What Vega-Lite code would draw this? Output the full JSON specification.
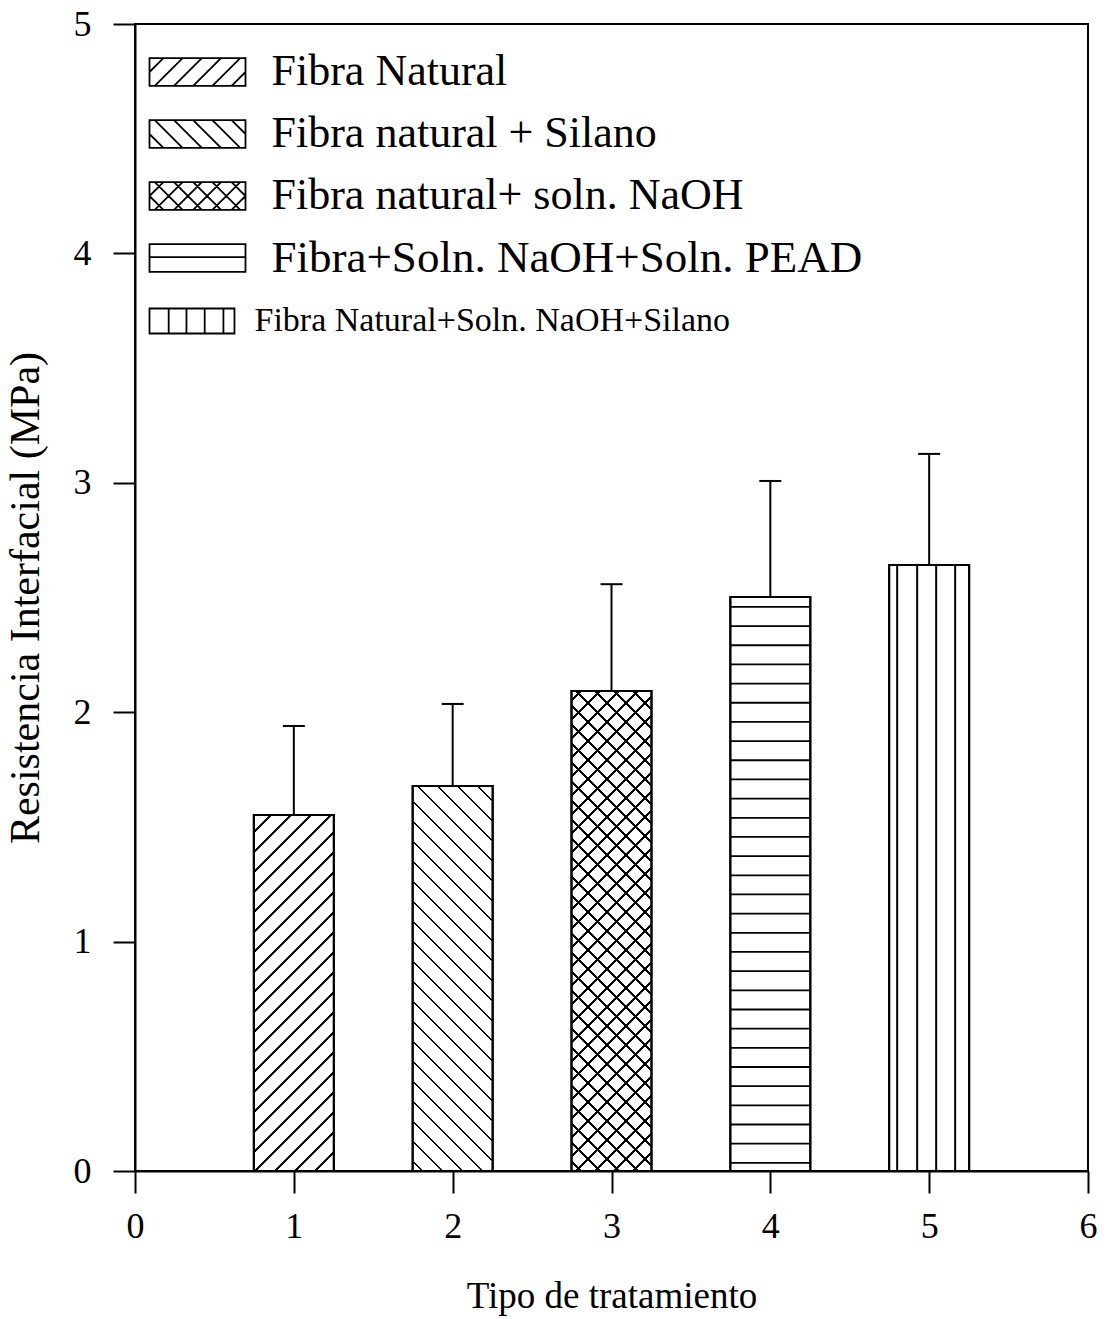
{
 "$schema": "https://vega.github.io/schema/vega-lite/v6.json",
 "width": 953,
 "height": 1147,
 "autosize": "none",
 "padding": {"left": 135, "top": 24, "right": 18, "bottom": 148},
 "background": "white",
 "data": {"values": [
  {"tipo": 1, "valor": 1.552, "superior": 1.940, "trat": "Fibra Natural"},
  {"tipo": 2, "valor": 1.678, "superior": 2.036, "trat": "Fibra natural + Silano"},
  {"tipo": 3, "valor": 2.092, "superior": 2.558, "trat": "Fibra natural+ soln. NaOH"},
  {"tipo": 4, "valor": 2.502, "superior": 3.008, "trat": "Fibra+Soln. NaOH+Soln. PEAD"},
  {"tipo": 5, "valor": 2.642, "superior": 3.126, "trat": "Fibra Natural+Soln. NaOH+Silano"}
 ]},
 "encoding": {
  "x": {"field": "tipo", "type": "quantitative", "scale": {"domain": [0, 6], "nice": false, "padding": 0},
        "axis": {"values": [0, 1, 2, 3, 4, 5, 6], "format": "d", "title": "Tipo de tratamiento", "labelFlush": false, "labelOverlap": false, "labelPadding": 16, "titleFontSize": 37, "titlePadding": 34}}
 },
 "layer": [
  {
   "mark": {"type": "bar", "size": 80, "stroke": "black", "strokeWidth": 2},
   "encoding": {
    "y": {"field": "valor", "type": "quantitative", "scale": {"domain": [0, 5], "nice": false, "padding": 0},
          "axis": {"values": [0, 1, 2, 3, 4, 5], "format": "d", "title": "Resistencia Interfacial (MPa)", "labelPadding": 22, "titleFontSize": 42, "titlePadding": 26}},
    "fill": {"condition": [
     {"test": "datum.tipo === 1", "value": {"gradient": "linear", "x1": 0, "y1": 0, "x2": 0.262, "y2": 1.1659, "stops": [
      {"offset":0,"color":"#fff"},
      {"offset":0.0360,"color":"#fff"},{"offset":0.0360,"color":"#000"},{"offset":0.0420,"color":"#000"},{"offset":0.0420,"color":"#fff"},
      {"offset":0.0819,"color":"#fff"},{"offset":0.0819,"color":"#000"},{"offset":0.0878,"color":"#000"},{"offset":0.0878,"color":"#fff"},
      {"offset":0.1278,"color":"#fff"},{"offset":0.1278,"color":"#000"},{"offset":0.1337,"color":"#000"},{"offset":0.1337,"color":"#fff"},
      {"offset":0.1736,"color":"#fff"},{"offset":0.1736,"color":"#000"},{"offset":0.1796,"color":"#000"},{"offset":0.1796,"color":"#fff"},
      {"offset":0.2195,"color":"#fff"},{"offset":0.2195,"color":"#000"},{"offset":0.2255,"color":"#000"},{"offset":0.2255,"color":"#fff"},
      {"offset":0.2654,"color":"#fff"},{"offset":0.2654,"color":"#000"},{"offset":0.2713,"color":"#000"},{"offset":0.2713,"color":"#fff"},
      {"offset":0.3112,"color":"#fff"},{"offset":0.3112,"color":"#000"},{"offset":0.3172,"color":"#000"},{"offset":0.3172,"color":"#fff"},
      {"offset":0.3571,"color":"#fff"},{"offset":0.3571,"color":"#000"},{"offset":0.3631,"color":"#000"},{"offset":0.3631,"color":"#fff"},
      {"offset":0.4030,"color":"#fff"},{"offset":0.4030,"color":"#000"},{"offset":0.4089,"color":"#000"},{"offset":0.4089,"color":"#fff"},
      {"offset":0.4489,"color":"#fff"},{"offset":0.4489,"color":"#000"},{"offset":0.4548,"color":"#000"},{"offset":0.4548,"color":"#fff"},
      {"offset":0.4947,"color":"#fff"},{"offset":0.4947,"color":"#000"},{"offset":0.5007,"color":"#000"},{"offset":0.5007,"color":"#fff"},
      {"offset":0.5406,"color":"#fff"},{"offset":0.5406,"color":"#000"},{"offset":0.5466,"color":"#000"},{"offset":0.5466,"color":"#fff"},
      {"offset":0.5865,"color":"#fff"},{"offset":0.5865,"color":"#000"},{"offset":0.5924,"color":"#000"},{"offset":0.5924,"color":"#fff"},
      {"offset":0.6323,"color":"#fff"},{"offset":0.6323,"color":"#000"},{"offset":0.6383,"color":"#000"},{"offset":0.6383,"color":"#fff"},
      {"offset":0.6782,"color":"#fff"},{"offset":0.6782,"color":"#000"},{"offset":0.6842,"color":"#000"},{"offset":0.6842,"color":"#fff"},
      {"offset":0.7241,"color":"#fff"},{"offset":0.7241,"color":"#000"},{"offset":0.7301,"color":"#000"},{"offset":0.7301,"color":"#fff"},
      {"offset":0.7700,"color":"#fff"},{"offset":0.7700,"color":"#000"},{"offset":0.7759,"color":"#000"},{"offset":0.7759,"color":"#fff"},
      {"offset":0.8158,"color":"#fff"},{"offset":0.8158,"color":"#000"},{"offset":0.8218,"color":"#000"},{"offset":0.8218,"color":"#fff"},
      {"offset":0.8617,"color":"#fff"},{"offset":0.8617,"color":"#000"},{"offset":0.8677,"color":"#000"},{"offset":0.8677,"color":"#fff"},
      {"offset":0.9076,"color":"#fff"},{"offset":0.9076,"color":"#000"},{"offset":0.9135,"color":"#000"},{"offset":0.9135,"color":"#fff"},
      {"offset":0.9534,"color":"#fff"},{"offset":0.9534,"color":"#000"},{"offset":0.9594,"color":"#000"},{"offset":0.9594,"color":"#fff"},
      {"offset":1,"color":"#fff"}
     ]}},
     {"test": "datum.tipo === 2", "value": {"gradient": "linear", "x1": 0, "y1": 1, "x2": 0.2406, "y2": -0.1578, "stops": [
      {"offset":0,"color":"#fff"},
      {"offset":0.0187,"color":"#fff"},{"offset":0.0187,"color":"#000"},{"offset":0.0243,"color":"#000"},{"offset":0.0243,"color":"#fff"},
      {"offset":0.0617,"color":"#fff"},{"offset":0.0617,"color":"#000"},{"offset":0.0673,"color":"#000"},{"offset":0.0673,"color":"#fff"},
      {"offset":0.1047,"color":"#fff"},{"offset":0.1047,"color":"#000"},{"offset":0.1103,"color":"#000"},{"offset":0.1103,"color":"#fff"},
      {"offset":0.1477,"color":"#fff"},{"offset":0.1477,"color":"#000"},{"offset":0.1533,"color":"#000"},{"offset":0.1533,"color":"#fff"},
      {"offset":0.1908,"color":"#fff"},{"offset":0.1908,"color":"#000"},{"offset":0.1963,"color":"#000"},{"offset":0.1963,"color":"#fff"},
      {"offset":0.2338,"color":"#fff"},{"offset":0.2338,"color":"#000"},{"offset":0.2394,"color":"#000"},{"offset":0.2394,"color":"#fff"},
      {"offset":0.2768,"color":"#fff"},{"offset":0.2768,"color":"#000"},{"offset":0.2824,"color":"#000"},{"offset":0.2824,"color":"#fff"},
      {"offset":0.3198,"color":"#fff"},{"offset":0.3198,"color":"#000"},{"offset":0.3254,"color":"#000"},{"offset":0.3254,"color":"#fff"},
      {"offset":0.3628,"color":"#fff"},{"offset":0.3628,"color":"#000"},{"offset":0.3684,"color":"#000"},{"offset":0.3684,"color":"#fff"},
      {"offset":0.4058,"color":"#fff"},{"offset":0.4058,"color":"#000"},{"offset":0.4114,"color":"#000"},{"offset":0.4114,"color":"#fff"},
      {"offset":0.4488,"color":"#fff"},{"offset":0.4488,"color":"#000"},{"offset":0.4544,"color":"#000"},{"offset":0.4544,"color":"#fff"},
      {"offset":0.4918,"color":"#fff"},{"offset":0.4918,"color":"#000"},{"offset":0.4974,"color":"#000"},{"offset":0.4974,"color":"#fff"},
      {"offset":0.5348,"color":"#fff"},{"offset":0.5348,"color":"#000"},{"offset":0.5404,"color":"#000"},{"offset":0.5404,"color":"#fff"},
      {"offset":0.5779,"color":"#fff"},{"offset":0.5779,"color":"#000"},{"offset":0.5834,"color":"#000"},{"offset":0.5834,"color":"#fff"},
      {"offset":0.6209,"color":"#fff"},{"offset":0.6209,"color":"#000"},{"offset":0.6265,"color":"#000"},{"offset":0.6265,"color":"#fff"},
      {"offset":0.6639,"color":"#fff"},{"offset":0.6639,"color":"#000"},{"offset":0.6695,"color":"#000"},{"offset":0.6695,"color":"#fff"},
      {"offset":0.7069,"color":"#fff"},{"offset":0.7069,"color":"#000"},{"offset":0.7125,"color":"#000"},{"offset":0.7125,"color":"#fff"},
      {"offset":0.7499,"color":"#fff"},{"offset":0.7499,"color":"#000"},{"offset":0.7555,"color":"#000"},{"offset":0.7555,"color":"#fff"},
      {"offset":0.7929,"color":"#fff"},{"offset":0.7929,"color":"#000"},{"offset":0.7985,"color":"#000"},{"offset":0.7985,"color":"#fff"},
      {"offset":0.8359,"color":"#fff"},{"offset":0.8359,"color":"#000"},{"offset":0.8415,"color":"#000"},{"offset":0.8415,"color":"#fff"},
      {"offset":0.8789,"color":"#fff"},{"offset":0.8789,"color":"#000"},{"offset":0.8845,"color":"#000"},{"offset":0.8845,"color":"#fff"},
      {"offset":0.9219,"color":"#fff"},{"offset":0.9219,"color":"#000"},{"offset":0.9275,"color":"#000"},{"offset":0.9275,"color":"#fff"},
      {"offset":0.9650,"color":"#fff"},{"offset":0.9650,"color":"#000"},{"offset":0.9705,"color":"#000"},{"offset":0.9705,"color":"#fff"},
      {"offset":1,"color":"#fff"}
     ]}},
     {"test": "datum.tipo === 3", "value": {"gradient": "linear", "x1": 0, "y1": 0, "x2": 0.1892, "y2": 1.1351, "stops": [
      {"offset":0,"color":"#fff"},
      {"offset":0.0139,"color":"#fff"},{"offset":0.0139,"color":"#000"},{"offset":0.0200,"color":"#000"},{"offset":0.0200,"color":"#fff"},
      {"offset":0.0479,"color":"#fff"},{"offset":0.0479,"color":"#000"},{"offset":0.0539,"color":"#000"},{"offset":0.0539,"color":"#fff"},
      {"offset":0.0818,"color":"#fff"},{"offset":0.0818,"color":"#000"},{"offset":0.0879,"color":"#000"},{"offset":0.0879,"color":"#fff"},
      {"offset":0.1157,"color":"#fff"},{"offset":0.1157,"color":"#000"},{"offset":0.1218,"color":"#000"},{"offset":0.1218,"color":"#fff"},
      {"offset":0.1496,"color":"#fff"},{"offset":0.1496,"color":"#000"},{"offset":0.1557,"color":"#000"},{"offset":0.1557,"color":"#fff"},
      {"offset":0.1836,"color":"#fff"},{"offset":0.1836,"color":"#000"},{"offset":0.1896,"color":"#000"},{"offset":0.1896,"color":"#fff"},
      {"offset":0.2175,"color":"#fff"},{"offset":0.2175,"color":"#000"},{"offset":0.2236,"color":"#000"},{"offset":0.2236,"color":"#fff"},
      {"offset":0.2514,"color":"#fff"},{"offset":0.2514,"color":"#000"},{"offset":0.2575,"color":"#000"},{"offset":0.2575,"color":"#fff"},
      {"offset":0.2854,"color":"#fff"},{"offset":0.2854,"color":"#000"},{"offset":0.2914,"color":"#000"},{"offset":0.2914,"color":"#fff"},
      {"offset":0.3193,"color":"#fff"},{"offset":0.3193,"color":"#000"},{"offset":0.3254,"color":"#000"},{"offset":0.3254,"color":"#fff"},
      {"offset":0.3532,"color":"#fff"},{"offset":0.3532,"color":"#000"},{"offset":0.3593,"color":"#000"},{"offset":0.3593,"color":"#fff"},
      {"offset":0.3871,"color":"#fff"},{"offset":0.3871,"color":"#000"},{"offset":0.3932,"color":"#000"},{"offset":0.3932,"color":"#fff"},
      {"offset":0.4211,"color":"#fff"},{"offset":0.4211,"color":"#000"},{"offset":0.4271,"color":"#000"},{"offset":0.4271,"color":"#fff"},
      {"offset":0.4550,"color":"#fff"},{"offset":0.4550,"color":"#000"},{"offset":0.4611,"color":"#000"},{"offset":0.4611,"color":"#fff"},
      {"offset":0.4889,"color":"#fff"},{"offset":0.4889,"color":"#000"},{"offset":0.4950,"color":"#000"},{"offset":0.4950,"color":"#fff"},
      {"offset":0.5229,"color":"#fff"},{"offset":0.5229,"color":"#000"},{"offset":0.5289,"color":"#000"},{"offset":0.5289,"color":"#fff"},
      {"offset":0.5568,"color":"#fff"},{"offset":0.5568,"color":"#000"},{"offset":0.5629,"color":"#000"},{"offset":0.5629,"color":"#fff"},
      {"offset":0.5907,"color":"#fff"},{"offset":0.5907,"color":"#000"},{"offset":0.5968,"color":"#000"},{"offset":0.5968,"color":"#fff"},
      {"offset":0.6246,"color":"#fff"},{"offset":0.6246,"color":"#000"},{"offset":0.6307,"color":"#000"},{"offset":0.6307,"color":"#fff"},
      {"offset":0.6586,"color":"#fff"},{"offset":0.6586,"color":"#000"},{"offset":0.6646,"color":"#000"},{"offset":0.6646,"color":"#fff"},
      {"offset":0.6925,"color":"#fff"},{"offset":0.6925,"color":"#000"},{"offset":0.6986,"color":"#000"},{"offset":0.6986,"color":"#fff"},
      {"offset":0.7264,"color":"#fff"},{"offset":0.7264,"color":"#000"},{"offset":0.7325,"color":"#000"},{"offset":0.7325,"color":"#fff"},
      {"offset":0.7604,"color":"#fff"},{"offset":0.7604,"color":"#000"},{"offset":0.7664,"color":"#000"},{"offset":0.7664,"color":"#fff"},
      {"offset":0.7943,"color":"#fff"},{"offset":0.7943,"color":"#000"},{"offset":0.8004,"color":"#000"},{"offset":0.8004,"color":"#fff"},
      {"offset":0.8282,"color":"#fff"},{"offset":0.8282,"color":"#000"},{"offset":0.8343,"color":"#000"},{"offset":0.8343,"color":"#fff"},
      {"offset":0.8621,"color":"#fff"},{"offset":0.8621,"color":"#000"},{"offset":0.8682,"color":"#000"},{"offset":0.8682,"color":"#fff"},
      {"offset":0.8961,"color":"#fff"},{"offset":0.8961,"color":"#000"},{"offset":0.9021,"color":"#000"},{"offset":0.9021,"color":"#fff"},
      {"offset":0.9300,"color":"#fff"},{"offset":0.9300,"color":"#000"},{"offset":0.9361,"color":"#000"},{"offset":0.9361,"color":"#fff"},
      {"offset":0.9639,"color":"#fff"},{"offset":0.9639,"color":"#000"},{"offset":0.9700,"color":"#000"},{"offset":0.9700,"color":"#fff"},
      {"offset":1,"color":"#fff"}
     ]}}
    ], "value": "white"}
   }
  },
  {
   "transform": [{"filter": "datum.tipo === 3"}],
   "mark": {"type": "bar", "size": 80, "strokeWidth": 0, "fill": {"gradient": "linear", "x1": 0, "y1": 1, "x2": 0.1892, "y2": -0.1351, "stops": [
      {"offset":0,"color":"rgba(0,0,0,0)"},
      {"offset":0.0139,"color":"rgba(0,0,0,0)"},{"offset":0.0139,"color":"#000"},{"offset":0.0200,"color":"#000"},{"offset":0.0200,"color":"rgba(0,0,0,0)"},
      {"offset":0.0479,"color":"rgba(0,0,0,0)"},{"offset":0.0479,"color":"#000"},{"offset":0.0539,"color":"#000"},{"offset":0.0539,"color":"rgba(0,0,0,0)"},
      {"offset":0.0818,"color":"rgba(0,0,0,0)"},{"offset":0.0818,"color":"#000"},{"offset":0.0879,"color":"#000"},{"offset":0.0879,"color":"rgba(0,0,0,0)"},
      {"offset":0.1157,"color":"rgba(0,0,0,0)"},{"offset":0.1157,"color":"#000"},{"offset":0.1218,"color":"#000"},{"offset":0.1218,"color":"rgba(0,0,0,0)"},
      {"offset":0.1496,"color":"rgba(0,0,0,0)"},{"offset":0.1496,"color":"#000"},{"offset":0.1557,"color":"#000"},{"offset":0.1557,"color":"rgba(0,0,0,0)"},
      {"offset":0.1836,"color":"rgba(0,0,0,0)"},{"offset":0.1836,"color":"#000"},{"offset":0.1896,"color":"#000"},{"offset":0.1896,"color":"rgba(0,0,0,0)"},
      {"offset":0.2175,"color":"rgba(0,0,0,0)"},{"offset":0.2175,"color":"#000"},{"offset":0.2236,"color":"#000"},{"offset":0.2236,"color":"rgba(0,0,0,0)"},
      {"offset":0.2514,"color":"rgba(0,0,0,0)"},{"offset":0.2514,"color":"#000"},{"offset":0.2575,"color":"#000"},{"offset":0.2575,"color":"rgba(0,0,0,0)"},
      {"offset":0.2854,"color":"rgba(0,0,0,0)"},{"offset":0.2854,"color":"#000"},{"offset":0.2914,"color":"#000"},{"offset":0.2914,"color":"rgba(0,0,0,0)"},
      {"offset":0.3193,"color":"rgba(0,0,0,0)"},{"offset":0.3193,"color":"#000"},{"offset":0.3254,"color":"#000"},{"offset":0.3254,"color":"rgba(0,0,0,0)"},
      {"offset":0.3532,"color":"rgba(0,0,0,0)"},{"offset":0.3532,"color":"#000"},{"offset":0.3593,"color":"#000"},{"offset":0.3593,"color":"rgba(0,0,0,0)"},
      {"offset":0.3871,"color":"rgba(0,0,0,0)"},{"offset":0.3871,"color":"#000"},{"offset":0.3932,"color":"#000"},{"offset":0.3932,"color":"rgba(0,0,0,0)"},
      {"offset":0.4211,"color":"rgba(0,0,0,0)"},{"offset":0.4211,"color":"#000"},{"offset":0.4271,"color":"#000"},{"offset":0.4271,"color":"rgba(0,0,0,0)"},
      {"offset":0.4550,"color":"rgba(0,0,0,0)"},{"offset":0.4550,"color":"#000"},{"offset":0.4611,"color":"#000"},{"offset":0.4611,"color":"rgba(0,0,0,0)"},
      {"offset":0.4889,"color":"rgba(0,0,0,0)"},{"offset":0.4889,"color":"#000"},{"offset":0.4950,"color":"#000"},{"offset":0.4950,"color":"rgba(0,0,0,0)"},
      {"offset":0.5229,"color":"rgba(0,0,0,0)"},{"offset":0.5229,"color":"#000"},{"offset":0.5289,"color":"#000"},{"offset":0.5289,"color":"rgba(0,0,0,0)"},
      {"offset":0.5568,"color":"rgba(0,0,0,0)"},{"offset":0.5568,"color":"#000"},{"offset":0.5629,"color":"#000"},{"offset":0.5629,"color":"rgba(0,0,0,0)"},
      {"offset":0.5907,"color":"rgba(0,0,0,0)"},{"offset":0.5907,"color":"#000"},{"offset":0.5968,"color":"#000"},{"offset":0.5968,"color":"rgba(0,0,0,0)"},
      {"offset":0.6246,"color":"rgba(0,0,0,0)"},{"offset":0.6246,"color":"#000"},{"offset":0.6307,"color":"#000"},{"offset":0.6307,"color":"rgba(0,0,0,0)"},
      {"offset":0.6586,"color":"rgba(0,0,0,0)"},{"offset":0.6586,"color":"#000"},{"offset":0.6646,"color":"#000"},{"offset":0.6646,"color":"rgba(0,0,0,0)"},
      {"offset":0.6925,"color":"rgba(0,0,0,0)"},{"offset":0.6925,"color":"#000"},{"offset":0.6986,"color":"#000"},{"offset":0.6986,"color":"rgba(0,0,0,0)"},
      {"offset":0.7264,"color":"rgba(0,0,0,0)"},{"offset":0.7264,"color":"#000"},{"offset":0.7325,"color":"#000"},{"offset":0.7325,"color":"rgba(0,0,0,0)"},
      {"offset":0.7604,"color":"rgba(0,0,0,0)"},{"offset":0.7604,"color":"#000"},{"offset":0.7664,"color":"#000"},{"offset":0.7664,"color":"rgba(0,0,0,0)"},
      {"offset":0.7943,"color":"rgba(0,0,0,0)"},{"offset":0.7943,"color":"#000"},{"offset":0.8004,"color":"#000"},{"offset":0.8004,"color":"rgba(0,0,0,0)"},
      {"offset":0.8282,"color":"rgba(0,0,0,0)"},{"offset":0.8282,"color":"#000"},{"offset":0.8343,"color":"#000"},{"offset":0.8343,"color":"rgba(0,0,0,0)"},
      {"offset":0.8621,"color":"rgba(0,0,0,0)"},{"offset":0.8621,"color":"#000"},{"offset":0.8682,"color":"#000"},{"offset":0.8682,"color":"rgba(0,0,0,0)"},
      {"offset":0.8961,"color":"rgba(0,0,0,0)"},{"offset":0.8961,"color":"#000"},{"offset":0.9021,"color":"#000"},{"offset":0.9021,"color":"rgba(0,0,0,0)"},
      {"offset":0.9300,"color":"rgba(0,0,0,0)"},{"offset":0.9300,"color":"#000"},{"offset":0.9361,"color":"#000"},{"offset":0.9361,"color":"rgba(0,0,0,0)"},
      {"offset":0.9639,"color":"rgba(0,0,0,0)"},{"offset":0.9639,"color":"#000"},{"offset":0.9700,"color":"#000"},{"offset":0.9700,"color":"rgba(0,0,0,0)"},
      {"offset":1,"color":"rgba(0,0,0,0)"}
    ]}},
   "encoding": {"y": {"field": "valor", "type": "quantitative", "title": "Resistencia Interfacial (MPa)"}}
  },
  {
   "transform": [{"filter": "datum.tipo === 4"}],
   "mark": {"type": "rule", "strokeWidth": 80, "strokeDash": [1.8, 17.37], "strokeDashOffset": 10.2, "color": "black"},
   "encoding": {"y": {"field": "valor", "type": "quantitative", "title": "Resistencia Interfacial (MPa)"}, "y2": {"datum": 0}}
  },
  {
   "transform": [{"filter": "datum.tipo === 5"}],
   "mark": {"type": "rule", "strokeWidth": 2, "xOffset": -32, "color": "black"},
   "encoding": {"y": {"field": "valor", "type": "quantitative", "title": "Resistencia Interfacial (MPa)"}, "y2": {"datum": 0}}
  },
  {
   "transform": [{"filter": "datum.tipo === 5"}],
   "mark": {"type": "rule", "strokeWidth": 2, "xOffset": -12, "color": "black"},
   "encoding": {"y": {"field": "valor", "type": "quantitative", "title": "Resistencia Interfacial (MPa)"}, "y2": {"datum": 0}}
  },
  {
   "transform": [{"filter": "datum.tipo === 5"}],
   "mark": {"type": "rule", "strokeWidth": 2, "xOffset": 7, "color": "black"},
   "encoding": {"y": {"field": "valor", "type": "quantitative", "title": "Resistencia Interfacial (MPa)"}, "y2": {"datum": 0}}
  },
  {
   "transform": [{"filter": "datum.tipo === 5"}],
   "mark": {"type": "rule", "strokeWidth": 2, "xOffset": 26, "color": "black"},
   "encoding": {"y": {"field": "valor", "type": "quantitative", "title": "Resistencia Interfacial (MPa)"}, "y2": {"datum": 0}}
  },
  {
   "mark": {"type": "bar", "size": 80, "fill": "transparent", "stroke": "black", "strokeWidth": 2},
   "encoding": {"y": {"field": "valor", "type": "quantitative", "title": "Resistencia Interfacial (MPa)"}}
  },
  {
   "mark": {"type": "rule", "strokeWidth": 2, "color": "black"},
   "encoding": {"y": {"field": "valor", "type": "quantitative", "title": "Resistencia Interfacial (MPa)"}, "y2": {"field": "superior"}}
  },
  {
   "mark": {"type": "tick", "orient": "horizontal", "size": 22, "thickness": 2, "color": "black", "opacity": 1},
   "encoding": {"y": {"field": "superior", "type": "quantitative", "title": "Resistencia Interfacial (MPa)"}}
  },
  {
   "mark": {"type": "point", "filled": false, "color": "black", "opacity": 0},
   "encoding": {
    "y": {"field": "valor", "type": "quantitative", "title": "Resistencia Interfacial (MPa)"},
    "shape": {"field": "trat", "type": "nominal",
     "scale": {"domain": ["Fibra Natural", "Fibra natural + Silano", "Fibra natural+ soln. NaOH", "Fibra+Soln. NaOH+Soln. PEAD", "Fibra Natural+Soln. NaOH+Silano"],
      "range": [
       "M-2,-0.58L2,-0.58L2,0.58L-2,0.58ZM-2,0L-1.42,-0.58M-1.78,0.58L-0.62,-0.58M-0.98,0.58L0.18,-0.58M-0.18,0.58L0.98,-0.58M0.62,0.58L1.78,-0.58M1.42,0.58L2,0",
       "M-2,-0.58L2,-0.58L2,0.58L-2,0.58ZM-2,0L-1.42,0.58M-1.78,-0.58L-0.62,0.58M-0.98,-0.58L0.18,0.58M-0.18,-0.58L0.98,0.58M0.62,-0.58L1.78,0.58M1.42,-0.58L2,0",
       "M-2,-0.58L2,-0.58L2,0.58L-2,0.58ZM-2,0L-1.42,-0.58M-1.78,0.58L-0.62,-0.58M-0.98,0.58L0.18,-0.58M-0.18,0.58L0.98,-0.58M0.62,0.58L1.78,-0.58M1.42,0.58L2,0M-2,0L-1.42,0.58M-1.78,-0.58L-0.62,0.58M-0.98,-0.58L0.18,0.58M-0.18,-0.58L0.98,0.58M0.62,-0.58L1.78,0.58M1.42,-0.58L2,0",
       "M-2,-0.58L2,-0.58L2,0.58L-2,0.58ZM-2,-0.04L2,-0.04",
       "M-2,-0.52L1.54,-0.52L1.54,0.52L-2,0.52ZM-1.2,-0.52L-1.2,0.52M-0.46,-0.52L-0.46,0.52M0.3,-0.52L0.3,0.52M1.08,-0.52L1.08,0.52"
      ]},
     "legend": {"title": null, "orient": "none", "legendX": 37.5, "legendY": 23, "padding": 0,
      "symbolSize": 2304, "symbolOpacity": 1, "symbolStrokeWidth": 1.8, "symbolStrokeColor": "black",
      "labelOffset": {"expr": "datum.value === 'Fibra Natural+Soln. NaOH+Silano' ? 32 : 49"},
      "labelFont": "Liberation Serif",
      "labelFontSize": {"expr": "datum.value === 'Fibra+Soln. NaOH+Soln. PEAD' ? 45 : datum.value === 'Fibra Natural+Soln. NaOH+Silano' ? 34 : 44"},
      "labelColor": "black", "labelLimit": 0, "rowPadding": 15}
    }
   }
  }
 ],
 "config": {
  "font": "Liberation Serif",
  "view": {"stroke": "black", "strokeWidth": 2},
  "axis": {"domainColor": "black", "domainWidth": 2, "tickColor": "black", "tickWidth": 2, "tickSize": 22,
           "labelFont": "Liberation Serif", "labelFontSize": 36, "labelColor": "black",
           "titleFont": "Liberation Serif", "titleColor": "black", "titleFontWeight": "normal", "grid": false}
 }
}
